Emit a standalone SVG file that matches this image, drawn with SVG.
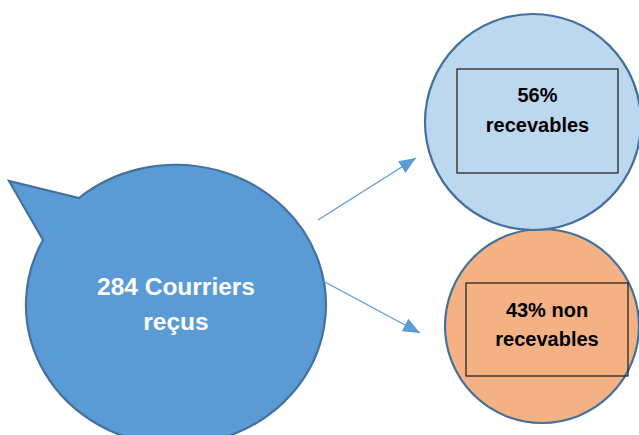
<svg xmlns="http://www.w3.org/2000/svg" width="639" height="435" viewBox="0 0 639 435">
<style>
.node{stroke:#41719c;stroke-width:2.2}
.box{fill:none;stroke:#1a1a1a;stroke-width:1.2}
.lbl{font-family:"Liberation Sans",Arial,sans-serif;font-weight:bold;text-anchor:middle}
.conn{stroke:#5b9bd5;stroke-width:1.3;fill:none}
</style>
<defs>
<marker id="ah" markerUnits="userSpaceOnUse" markerWidth="17" markerHeight="14" refX="17" refY="7" orient="auto">
<path d="M0,0 L17,7 L0,14 Z" fill="#5b9bd5"/>
</marker>
</defs>
<rect width="639" height="435" fill="#ffffff"/>
<g id="bubble">
<path class="node" fill="#5b9bd5" d="M79 198 L9 181 L43 240 A150 140 0 1 0 79 198 Z"/>
<text class="lbl" fill="#ffffff" font-size="24.5" x="176" y="295">284 Courriers</text>
<text class="lbl" fill="#ffffff" font-size="24.5" x="176" y="330">reçus</text>
</g>
<g id="non-recevables">
<circle class="node" fill="#f4b183" cx="542" cy="326" r="97"/>
<rect class="box" x="466" y="283" width="162" height="93"/>
<text class="lbl" fill="#000000" font-size="20" x="547" y="317">43% non</text>
<text class="lbl" fill="#000000" font-size="20" x="547" y="346">recevables</text>
</g>
<g id="recevables">
<circle class="node" fill="#bdd7ee" cx="533" cy="122" r="108"/>
<rect class="box" x="457" y="69" width="161" height="104"/>
<text class="lbl" fill="#000000" font-size="20" x="537.5" y="102">56%</text>
<text class="lbl" fill="#000000" font-size="20" x="537.5" y="132">recevables</text>
</g>
<g id="connectors">
<line class="conn" x1="318" y1="220" x2="416" y2="158" marker-end="url(#ah)"/>
<line class="conn" x1="323" y1="281" x2="420" y2="333" marker-end="url(#ah)"/>
</g>
</svg>
